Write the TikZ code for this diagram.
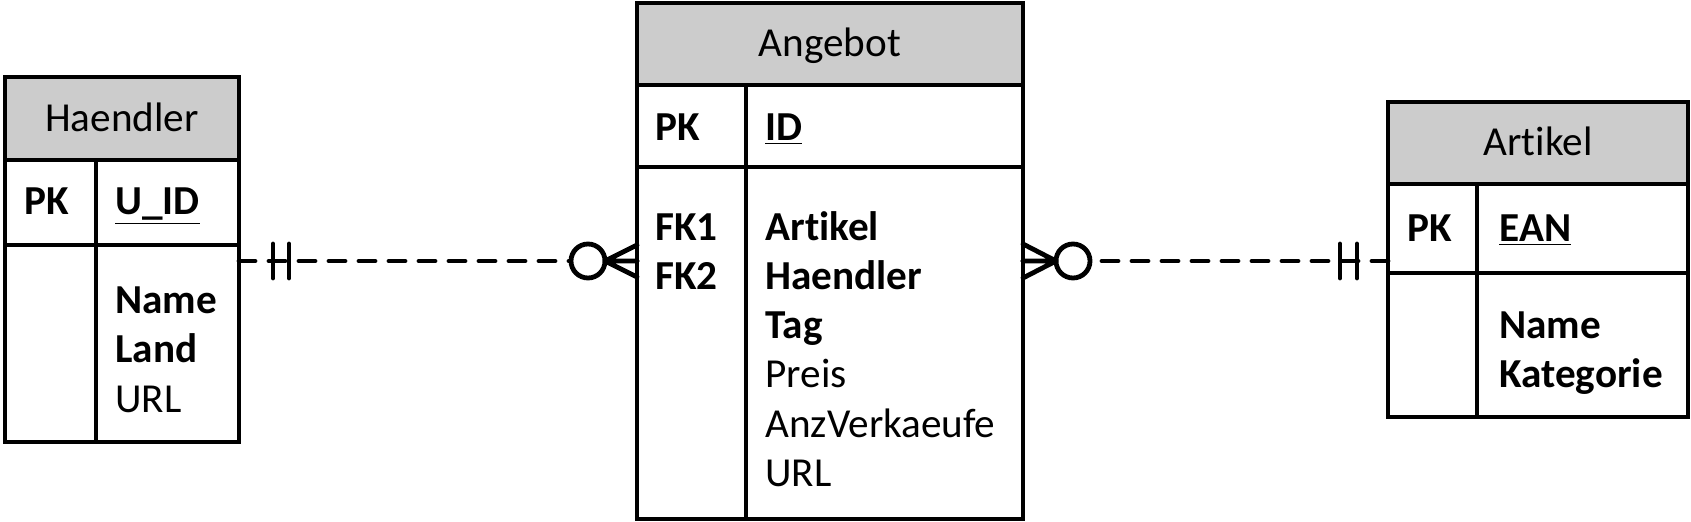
\documentclass[tikz,border=0pt]{standalone}
\usepackage{fontspec}
\setmainfont[Ligatures=NoCommon]{Carlito}
\definecolor{hdrgray}{RGB}{204,204,204}
\tikzset{
  tbl/.style={draw, line width=1.7pt, inner sep=0pt, outer sep=0pt, anchor=north west},
  hdr/.style={tbl, fill=hdrgray, text height=14pt, text depth=1pt, font=\fontsize{20.6}{24}\selectfont},
  divline/.style={line width=1.7pt},
  txt/.style={anchor=base west, inner sep=0pt, font=\fontsize{20.6}{24}\selectfont},
  key/.style={txt, font=\fontsize{20.6}{24}\selectfont\bfseries},
  rel/.style={line width=2.4pt, line cap=round, dash pattern=on 8pt off 7pt},
  crow/.style={line width=2.4pt, line cap=round},
}
\begin{document}
\begin{tikzpicture}[x=0.5pt,y=-0.5pt]
\useasboundingbox (0,0) rectangle (1691,522);
% Haendler
\node[tbl, minimum width=117pt, minimum height=182.5pt] (haendler) at (5,77) {};
\node[hdr, minimum width=117pt, minimum height=41.5pt] (haendlerHead) at (haendler.north west) {Haendler};
\node[tbl, minimum width=117pt, minimum height=42.5pt] (haendlerPK) at (haendlerHead.south west) {};
\draw[divline] ([xshift=45.5pt]haendlerPK.north west) -- ([xshift=45.5pt]haendler.south west);
\node[key] (hPK) at (24,215) {PK};
\node[key] (hUID) at (115,215) {\underline{U\_ID}};
\node[key] (hName) at (115,314) {Name};
\node[key] (hLand) at (115,363) {Land};
\node[txt] (hURL) at (115,413) {URL};
% Angebot
\node[tbl, minimum width=193pt, minimum height=258pt] (angebot) at (637,3) {};
\node[hdr, minimum width=193pt, minimum height=41pt] (angebotHead) at (angebot.north west) {Angebot};
\node[tbl, minimum width=193pt, minimum height=41pt] (angebotPK) at (angebotHead.south west) {};
\draw[divline] ([xshift=54.5pt]angebotPK.north west) -- ([xshift=54.5pt]angebot.south west);
\node[key] (aPK) at (655,141) {PK};
\node[key] (aID) at (765,141) {\underline{ID}};
\node[key] (aFKa) at (655,241) {FK1};
\node[key] (aFKb) at (655,290) {FK2};
\node[key] (aArtikel) at (765,241) {Artikel};
\node[key] (aHaendler) at (765,290) {Haendler};
\node[key] (aTag) at (765,339) {Tag};
\node[txt] (aPreis) at (765,388) {Preis};
\node[txt] (aAnz) at (765,438) {AnzVerkaeufe};
\node[txt] (aURL) at (765,487) {URL};
% Artikel
\node[tbl, minimum width=150pt, minimum height=157.5pt] (artikel) at (1388,102) {};
\node[hdr, minimum width=150pt, minimum height=41pt] (artikelHead) at (artikel.north west) {Artikel};
\node[tbl, minimum width=150pt, minimum height=44.5pt] (artikelPK) at (artikelHead.south west) {};
\draw[divline] ([xshift=44.5pt]artikelPK.north west) -- ([xshift=44.5pt]artikel.south west);
\node[key] (rPK) at (1407,242) {PK};
\node[key] (rEAN) at (1499,242) {\underline{EAN}};
\node[key] (rName) at (1499,339) {Name};
\node[key] (rKat) at (1499,388) {Kategorie};
% relations
\coordinate (lEnd) at (haendler.east |- angebot.west);
\coordinate (rEnd) at (artikel.west |- angebot.east);
\draw[rel] (lEnd) -- (angebot.west);
\draw[crow] (lEnd) ++(34,-17) -- ++(0,34) (lEnd) ++(50,-17) -- ++(0,34);
\draw[crow, fill=white] ([xshift=-24.5pt]angebot.west) circle[radius=8.5pt];
\draw[crow] ([xshift=-16pt]angebot.west) -- ([yshift=8pt]angebot.west)
  ([xshift=-16pt]angebot.west) -- ([yshift=-8pt]angebot.west)
  ([xshift=-16pt]angebot.west) -- (angebot.west);
\draw[rel] (rEnd) -- (angebot.east);
\draw[crow] (rEnd) ++(-31,-17) -- ++(0,34) (rEnd) ++(-48,-17) -- ++(0,34);
\draw[crow, fill=white] ([xshift=25pt]angebot.east) circle[radius=8.5pt];
\draw[crow] ([xshift=16.5pt]angebot.east) -- ([yshift=8.5pt]angebot.east)
  ([xshift=16.5pt]angebot.east) -- ([yshift=-8.5pt]angebot.east)
  ([xshift=16.5pt]angebot.east) -- (angebot.east);
\end{tikzpicture}
\end{document}
